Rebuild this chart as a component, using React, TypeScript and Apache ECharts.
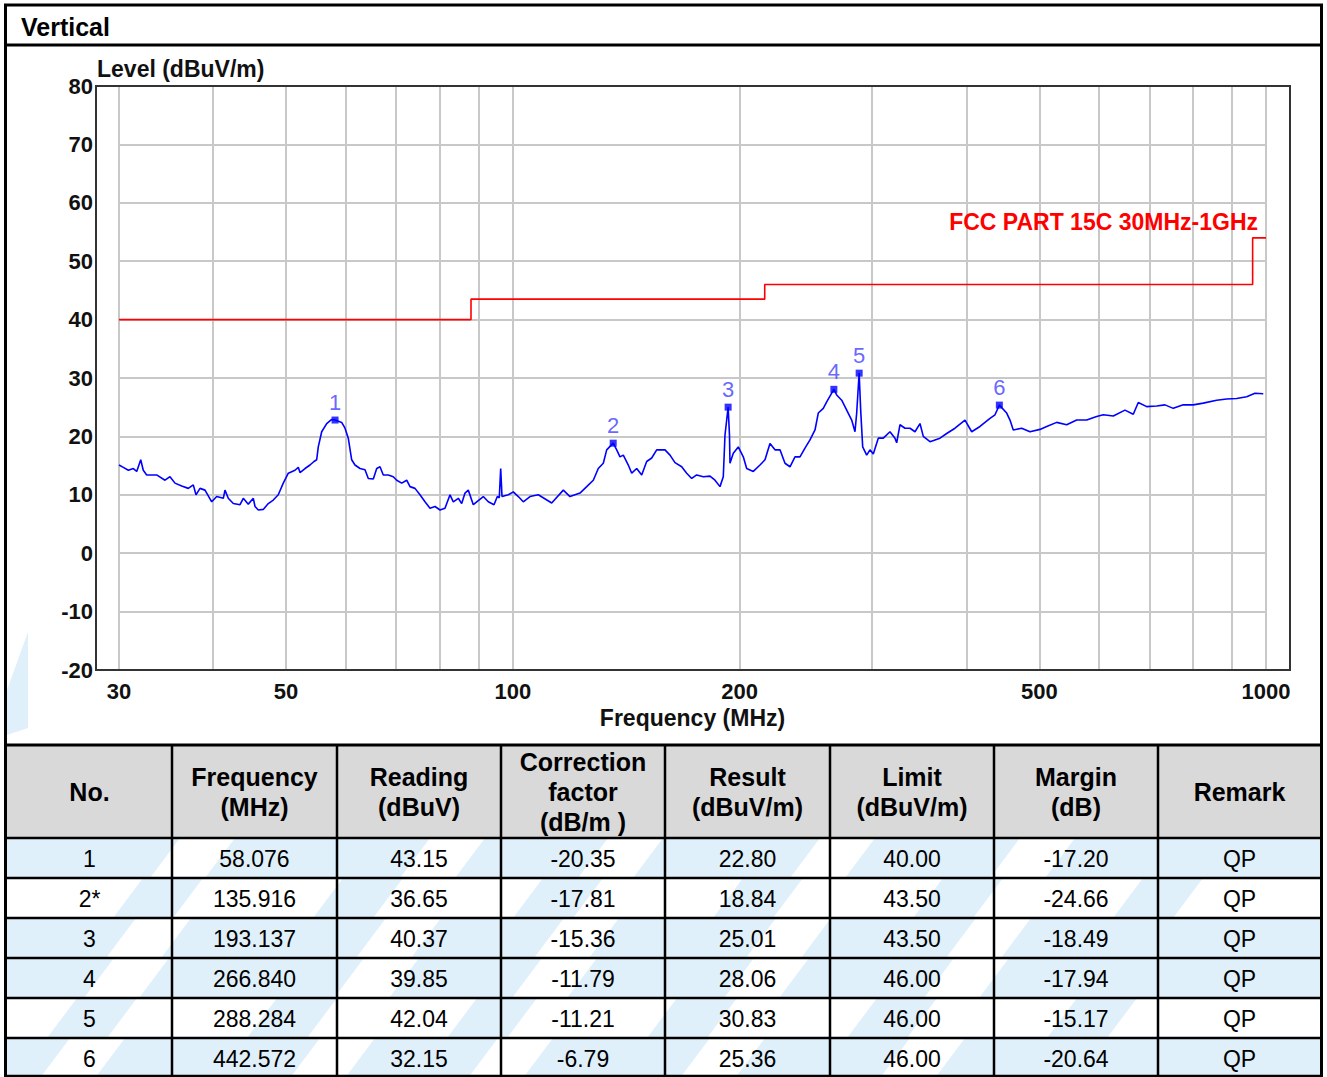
import React, { useEffect, useRef } from "react";
import * as echarts from "echarts";

// ---------- trace ----------
const freqMHz = [
  30.0, 30.4, 30.87, 31.34, 31.67, 32.06, 32.31, 32.65, 33.66, 34.53, 35.06, 35.6, 36.34, 37.08, 37.65, 37.96, 38.43,
  39.02, 39.83, 40.44, 41.27, 41.48, 41.9, 42.55, 43.43, 43.87, 44.54, 45.23, 45.47, 45.93, 46.63, 47.35, 48.08,
  48.82, 49.57, 50.34, 51.38, 51.9, 52.17, 52.98, 53.79, 54.45, 54.9, 55.17, 55.75, 56.61, 57.48, 58.076, 59.26,
  59.87, 60.47, 61.1, 61.72, 62.68, 63.64, 64.29, 65.28, 65.96, 66.63, 67.3, 68.34, 69.39, 70.12, 71.2, 72.29,
  73.03, 74.15, 75.29, 76.45, 77.63, 78.83, 80.04, 81.27, 82.53, 83.36, 84.65, 85.53, 86.4, 87.27, 88.62, 89.98,
  91.37, 92.78, 94.41, 95.37, 95.95, 96.36, 96.75, 98.63, 100.15, 101.69, 103.25, 105.39, 108.1, 112.62, 116.69,
  119.1, 122.8, 125.34, 127.89, 129.86, 131.86, 133.24, 135.916, 137.38, 138.77, 140.18, 142.34, 143.83, 146.04,
  148.29, 150.57, 152.89, 155.25, 159.24, 161.69, 164.18, 167.58, 170.16, 172.78, 175.44, 179.02, 182.72, 185.53,
  188.39, 190.3, 191.29, 193.137, 193.94, 194.24, 196.21, 199.23, 202.3, 204.41, 208.58, 212.9, 216.18, 219.5,
  222.89, 226.32, 229.81, 233.34, 236.94, 240.59, 244.29, 248.06, 251.88, 254.43, 258.35, 261.05, 266.84, 269.15,
  273.3, 277.51, 281.79, 284.64, 286.12, 287.53, 288.284, 289.64, 291.42, 295.01, 297.99, 301.02, 305.65, 310.36,
  316.78, 321.66, 323.34, 326.62, 331.65, 336.76, 341.95, 347.21, 350.73, 358.0, 369.11, 376.75, 386.43, 398.42,
  406.67, 417.12, 430.07, 436.7, 442.572, 452.6, 457.19, 461.82, 473.83, 486.01, 501.1, 511.46, 527.34, 543.7,
  560.58, 577.98, 595.92, 608.07, 626.94, 649.77, 666.47, 676.73, 694.34, 715.89, 734.29, 753.16, 776.54, 800.64,
  825.49, 860.01, 886.71, 914.23, 942.61, 966.83, 991.68,
];
const levelDb = [
  15.1, 14.7, 14.2, 14.5, 14.0, 16.0, 14.2, 13.4, 13.4, 12.5, 13.1, 12.0, 11.5, 11.1, 11.7, 10.0, 11.1,
  10.8, 8.8, 9.7, 9.4, 10.8, 9.4, 8.5, 8.3, 9.4, 8.4, 9.4, 8.0, 7.4, 7.5, 8.5, 9.1,
  10.0, 12.0, 13.7, 14.2, 14.7, 13.8, 14.5, 15.1, 15.7, 16.0, 18.2, 20.8, 22.2, 22.9, 22.8, 22.4,
  21.4, 19.7, 16.0, 15.1, 14.5, 14.3, 12.8, 12.7, 14.5, 14.8, 13.4, 13.4, 13.1, 12.5, 12.0, 12.5,
  11.4, 11.1, 10.0, 8.8, 7.7, 8.0, 7.4, 7.7, 10.0, 8.8, 9.4, 8.5, 10.3, 10.8, 8.3, 9.0,
  9.7, 8.8, 8.3, 9.7, 9.5, 14.5, 9.7, 10.0, 10.5, 9.7, 8.8, 9.7, 10.0, 8.6, 10.8,
  9.7, 10.3, 11.4, 12.5, 14.5, 15.4, 17.7, 18.84, 17.7, 16.5, 16.8, 15.1, 13.7, 14.5,
  13.4, 15.7, 16.3, 17.7, 17.7, 16.8, 15.5, 14.8, 13.7, 12.8, 13.4, 13.1, 13.2, 12.5,
  11.4, 13.1, 20.2, 25.01, 20.2, 15.4, 17.1, 18.2, 16.5, 14.5, 14.0, 15.1, 16.0, 18.8,
  17.7, 17.7, 15.4, 14.8, 16.5, 16.5, 18.0, 19.4, 21.1, 24.0, 24.8, 25.9, 28.06, 27.1,
  26.2, 24.5, 22.8, 20.8, 24.0, 28.5, 30.83, 24.5, 18.2, 16.8, 17.7, 17.0, 19.7, 19.7,
  20.8, 19.7, 18.9, 22.0, 21.4, 21.4, 20.8, 22.2, 20.0, 19.1, 19.7, 20.5, 21.4, 22.8,
  20.8, 21.7, 23.1, 23.7, 25.36, 24.0, 22.8, 21.1, 21.4, 20.8, 21.2, 21.7, 22.4, 22.0,
  22.8, 22.8, 23.4, 23.7, 23.5, 24.5, 23.8, 25.8, 25.1, 25.2, 25.4, 24.8, 25.4, 25.4,
  25.7, 26.2, 26.4, 26.5, 26.8, 27.4, 27.3,
];

// ---------- limit line ----------
const limitFreq = [30, 88, 88, 216, 216, 960, 960, 1000];
const limitLevel = [40, 40, 43.5, 43.5, 46, 46, 54, 54];
const limitName = "FCC PART 15C 30MHz-1GHz";

// ---------- axes ----------
const xGridValues = [30, 40, 50, 60, 70, 80, 90, 100, 200, 300, 400, 500, 600, 700, 800, 900, 1000];
const xLabelValues = [30, 50, 100, 200, 500, 1000];
const yMin = -20;
const yMax = 80;
const yStep = 10;

// ---------- markers / table ----------
const markerNo = ["1", "2", "3", "4", "5", "6"];
const tableNo = ["1", "2*", "3", "4", "5", "6"];
const markerFreq = [58.076, 135.916, 193.137, 266.84, 288.284, 442.572];
const reading = [43.15, 36.65, 40.37, 39.85, 42.04, 32.15];
const correction = [-20.35, -17.81, -15.36, -11.79, -11.21, -6.79];
const result = [22.8, 18.84, 25.01, 28.06, 30.83, 25.36];
const limitVal = [40.0, 43.5, 43.5, 46.0, 46.0, 46.0];
const margin = [-17.2, -24.66, -18.49, -17.94, -15.17, -20.64];
const remark = ["QP", "QP", "QP", "QP", "QP", "QP"];
const headers = [
  "No.",
  "Frequency\n(MHz)",
  "Reading\n(dBuV)",
  "Correction\nfactor\n(dB/m )",
  "Result\n(dBuV/m)",
  "Limit\n(dBuV/m)",
  "Margin\n(dB)",
  "Remark",
];

const FONT = '"Liberation Sans", Arial, sans-serif';
const WM = "#dff0fb";

function buildGraphic() {
  const g: any[] = [];
  const colEdges = [7, 172, 337, 501, 665, 830, 994, 1158, 1321];
  const headTop = 745;
  const bodyTop = 838;
  const rowH = 40;

  // watermark (pale blue swooshes)
  g.push({ type: "polygon", shape: { points: [[7, 690], [28, 632], [28, 728], [7, 735]] }, style: { fill: WM } });
  const whiteBands = [190, 440, 618, 830, 1030];
  const blueBands = [120, 320, 520, 720, 920, 1120];
  for (let r = 0; r < 6; r++) {
    const y0 = bodyTop + r * rowH;
    const y1 = y0 + rowH;
    const blueRow = r !== 1 && r !== 4;
    const shift = -r * 22;
    if (blueRow) {
      g.push({ type: "rect", shape: { x: 7, y: y0, width: 1314, height: rowH }, style: { fill: WM } });
      whiteBands.forEach((c) => {
        const cx = c + shift;
        g.push({
          type: "polygon",
          shape: { points: [[cx - 10, y0], [cx + 45, y0], [cx + 15, y1], [cx - 40, y1]] },
          style: { fill: "#ffffff" },
        });
      });
    } else {
      blueBands.forEach((c) => {
        const cx = c + shift + 60;
        g.push({
          type: "polygon",
          shape: { points: [[cx - 15, y0], [cx + 45, y0], [cx + 15, y1], [cx - 45, y1]] },
          style: { fill: WM },
        });
      });
    }
  }

  // header background
  g.push({ type: "rect", shape: { x: 7, y: headTop, width: 1314, height: bodyTop - headTop }, style: { fill: "#d9d9d9" } });

  // header texts
  headers.forEach((h, i) => {
    g.push({
      type: "text",
      style: {
        text: h,
        x: (colEdges[i] + colEdges[i + 1]) / 2,
        y: 792,
        align: "center",
        verticalAlign: "middle",
        font: `bold 25px ${FONT}`,
        lineHeight: 30,
        fill: "#000000",
      },
    });
  });

  // body texts
  for (let r = 0; r < 6; r++) {
    const cells = [
      tableNo[r],
      markerFreq[r].toFixed(3),
      reading[r].toFixed(2),
      correction[r].toFixed(2),
      result[r].toFixed(2),
      limitVal[r].toFixed(2),
      margin[r].toFixed(2),
      remark[r],
    ];
    cells.forEach((t, i) => {
      g.push({
        type: "text",
        style: {
          text: t,
          x: (colEdges[i] + colEdges[i + 1]) / 2,
          y: bodyTop + r * rowH + 20.5,
          align: "center",
          verticalAlign: "middle",
          font: `23px ${FONT}`,
          fill: "#000000",
        },
      });
    });
  }

  // table lines
  const hLines = [headTop, bodyTop, 878, 918, 958, 998, 1038, 1076];
  hLines.forEach((y, i) => {
    g.push({
      type: "line",
      shape: { x1: 4, y1: y, x2: 1323, y2: y },
      style: { stroke: "#000000", lineWidth: i === 0 ? 3 : 2.5 },
    });
  });
  colEdges.slice(1, -1).forEach((x) => {
    g.push({
      type: "line",
      shape: { x1: x, y1: headTop, x2: x, y2: 1077 },
      style: { stroke: "#000000", lineWidth: 2.5 },
    });
  });

  // outer border + title bar
  g.push({ type: "line", shape: { x1: 4, y1: 5, x2: 1323, y2: 5 }, style: { stroke: "#000", lineWidth: 3 } });
  g.push({ type: "line", shape: { x1: 5.5, y1: 4, x2: 5.5, y2: 1077 }, style: { stroke: "#000", lineWidth: 3 } });
  g.push({ type: "line", shape: { x1: 1321.5, y1: 4, x2: 1321.5, y2: 1077 }, style: { stroke: "#000", lineWidth: 3 } });
  g.push({ type: "line", shape: { x1: 4, y1: 45, x2: 1323, y2: 45 }, style: { stroke: "#000", lineWidth: 3 } });
  g.push({
    type: "text",
    style: { text: "Vertical", x: 21, y: 27, align: "left", verticalAlign: "middle", font: `bold 25px ${FONT}`, fill: "#000" },
  });

  // plot frame
  g.push({
    type: "rect",
    shape: { x: 96, y: 86, width: 1194, height: 584 },
    style: { fill: "none", stroke: "#333333", lineWidth: 2 },
    z: 10,
  });
  g.push({
    type: "text",
    z: 10,
    style: { text: "Level (dBuV/m)", x: 97, y: 69, align: "left", verticalAlign: "middle", font: `bold 23px ${FONT}`, fill: "#111" },
  });
  g.push({
    type: "text",
    z: 10,
    style: { text: limitName, x: 1258, y: 222, align: "right", verticalAlign: "middle", font: `bold 23px ${FONT}`, fill: "#ff0000" },
  });
  return g;
}

export default function App() {
  const ref = useRef<HTMLDivElement>(null);
  useEffect(() => {
    if (!ref.current) return;
    const chart = echarts.init(ref.current, undefined, { renderer: "svg" });
    const option: any = {
      animation: false,
      backgroundColor: "#ffffff",
      textStyle: { fontFamily: FONT },
      grid: { left: 119, right: 61, top: 86, bottom: 407, containLabel: false },
      xAxis: {
        type: "log",
        logBase: 10,
        min: 30,
        max: 1000,
        axisLine: { show: false },
        axisTick: { show: false, customValues: xGridValues },
        axisLabel: {
          customValues: xLabelValues,
          showMinLabel: true,
          showMaxLabel: true,
          fontSize: 22,
          fontWeight: "bold",
          color: "#111",
          margin: 10,
          formatter: (v: number) => String(Math.round(v)),
        },
        splitLine: { show: true, lineStyle: { color: "#c8c8c8", width: 2 } },
        name: "Frequency (MHz)",
        nameLocation: "middle",
        nameGap: 35,
        nameTextStyle: { fontSize: 23, fontWeight: "bold", color: "#111" },
      },
      yAxis: {
        type: "value",
        min: yMin,
        max: yMax,
        interval: yStep,
        axisLine: { show: false },
        axisTick: { show: false },
        axisLabel: { fontSize: 22, fontWeight: "bold", color: "#111", margin: 26 },
        splitLine: { show: true, lineStyle: { color: "#c8c8c8", width: 2 } },
      },
      series: [
        {
          type: "line",
          name: limitName,
          data: limitFreq.map((f, i) => [f, limitLevel[i]]),
          symbol: "none",
          lineStyle: { color: "#ff0000", width: 1.6 },
          z: 2,
        },
        {
          type: "line",
          name: "Level",
          data: freqMHz.map((f, i) => [f, levelDb[i]]),
          symbol: "none",
          lineStyle: { color: "#0000ff", width: 1.6 },
          z: 3,
        },
        {
          type: "scatter",
          name: "Markers",
          data: markerFreq.map((f, i) => [f, result[i]]),
          symbol: "rect",
          symbolSize: 7,
          itemStyle: { color: "#0000ff" },
          label: {
            show: true,
            position: "top",
            distance: 3,
            formatter: (p: any) => markerNo[p.dataIndex],
            color: "#4040ff",
            fontSize: 22,
            fontFamily: FONT,
          },
          z: 4,
        },
      ],
      graphic: { elements: buildGraphic() },
    };
    chart.setOption(option);
    return () => chart.dispose();
  }, []);
  return (
    <div
      ref={ref}
      style={{ position: "absolute", left: 0, top: 0, width: 1327, height: 1077, background: "#fff" }}
    />
  );
}
